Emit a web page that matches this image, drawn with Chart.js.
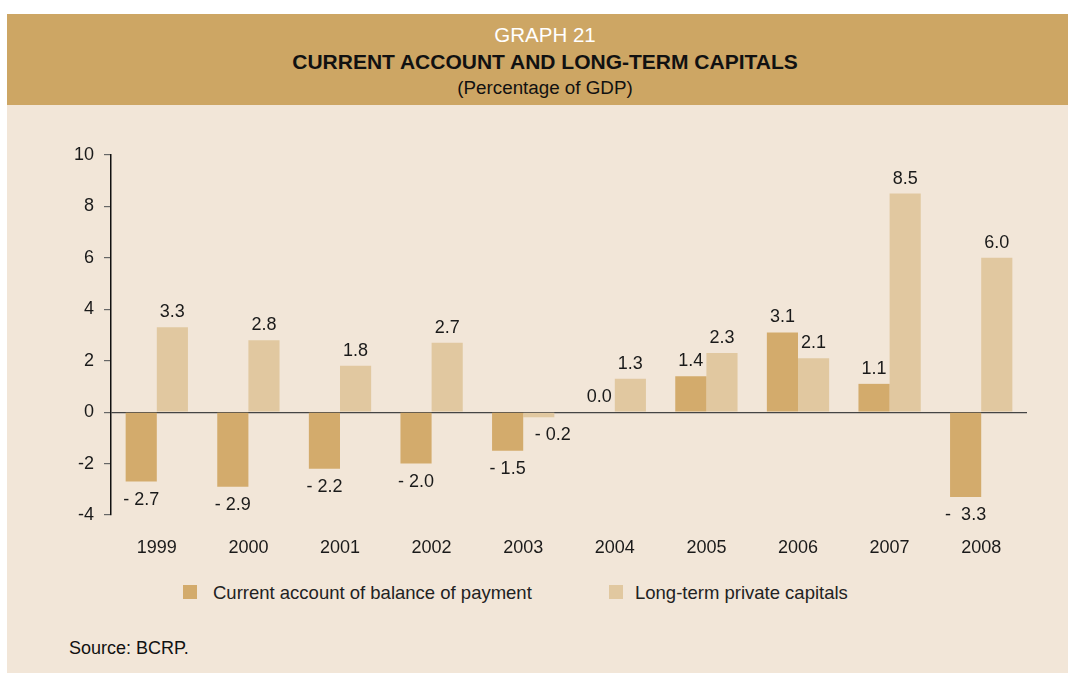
<!DOCTYPE html>
<html><head><meta charset="utf-8">
<script src="https://cdn.jsdelivr.net/npm/chart.js@4.4.1/dist/chart.umd.min.js"></script>
<style>
html,body{margin:0;padding:0;background:#fff;width:1068px;height:673px;overflow:hidden;font-family:"Liberation Sans",Arial,sans-serif;}
#head{position:absolute;left:7px;top:14px;width:1061px;height:91px;background:#CDA664;}
#panel{position:absolute;left:7px;top:105px;width:1061px;height:568px;background:#F2E6D8;}
.ht{position:absolute;left:0;width:1090px;text-align:center;line-height:1;white-space:nowrap;}
#g{top:25px;font-size:20.5px;color:#fff;}
#t{top:51px;font-size:21px;font-weight:bold;color:#111;}
#s{top:79px;font-size:18.8px;color:#111;}
#wrap{position:absolute;left:0;top:105px;width:1068px;height:460px;}
.leg{position:absolute;top:582px;font-size:18.5px;color:#222;}
.sw{position:absolute;width:14px;height:14px;top:585px;}
#src{position:absolute;left:69px;top:638px;font-size:18px;color:#111;}
</style></head>
<body>
<div id="head"></div>
<div id="panel"></div>
<div class="ht" id="g">GRAPH 21</div>
<div class="ht" id="t">CURRENT ACCOUNT AND LONG-TERM CAPITALS</div>
<div class="ht" id="s">(Percentage of GDP)</div>
<div id="wrap"><canvas id="c" width="1068" height="460"></canvas></div>
<div class="sw" style="left:183px;background:#D3AB6C"></div>
<div class="leg" style="left:213px">Current account of balance of payment</div>
<div class="sw" style="left:609px;background:#E1C8A0"></div>
<div class="leg" style="left:635px">Long-term private capitals</div>
<div id="src">Source: BCRP.</div>
<script>
const years = ['1999','2000','2001','2002','2003','2004','2005','2006','2007','2008'];
const currentAccount = [-2.7,-2.9,-2.2,-2.0,-1.5,0.0,1.4,3.1,1.1,-3.3];
const longTermCapitals = [3.3,2.8,1.8,2.7,-0.2,1.3,2.3,2.1,8.5,6.0];
const currentLabels = ['- 2.7','- 2.9','- 2.2','- 2.0','- 1.5','0.0','1.4','3.1','1.1','-  3.3'];
const longTermLabels = ['3.3','2.8','1.8','2.7','- 0.2','1.3','2.3','2.1','8.5','6.0'];
const yTicks = [10,8,6,4,2,0,-2,-4];

const FONT = '"Liberation Sans", Arial, sans-serif';
const labelPlugin = {
  id:'vlabels',
  afterDatasetsDraw(chart){
    const ctx = chart.ctx;
    const texts = [currentLabels, longTermLabels];
    ctx.save();
    ctx.font = '18px ' + FONT;
    ctx.fillStyle = '#1a1a1a';
    ctx.textAlign = 'center';
    ctx.textBaseline = 'middle';
    chart.data.datasets.forEach((ds, di) => {
      chart.getDatasetMeta(di).data.forEach((bar, i) => {
        const v = ds.data[i];
        let x = bar.x, y;
        if (v >= 0) y = bar.y - 15;
        else { y = bar.y + 18; if (Math.abs(v) < 0.5) x += 14; }
        ctx.fillText(texts[di][i], x, y);
      });
    });
    ctx.restore();
  }
};

new Chart(document.getElementById('c'), {
  type:'bar',
  data:{
    labels: years,
    datasets:[
      {label:'Current account of balance of payment', data: currentAccount, backgroundColor:'#D3AB6C', borderWidth:0},
      {label:'Long-term private capitals', data: longTermCapitals, backgroundColor:'#E1C8A0', borderWidth:0}
    ]
  },
  options:{
    responsive:false, animation:false,
    layout:{padding:{top:50,right:41,left:0,bottom:0}},
    datasets:{bar:{categoryPercentage:0.68, barPercentage:1.0}},
    plugins:{legend:{display:false}, tooltip:{enabled:false}},
    scales:{
      x:{
        grid:{display:false, drawTicks:false},
        border:{display:false},
        ticks:{color:'#1a1a1a', font:{size:18, family:FONT}, padding:22},
        afterFit(s){ s.height = 50; }
      },
      y:{
        min:-4, max:10,
        afterBuildTicks(s){ s.ticks = yTicks.map(v=>({value:v})); },
        grid:{drawOnChartArea:true, color:c=> (c.tick && c.tick.value===0) ? '#444' : 'rgba(0,0,0,0)', lineWidth:1.2, tickColor:'#666', tickLength:7, drawTicks:true},
        border:{display:true, color:'#111', width:1.5},
        ticks:{color:'#1a1a1a', font:{size:18, family:FONT}, padding:10},
        afterFit(s){ s.width = 111; }
      }
    }
  },
  plugins:[labelPlugin]
});
</script>
</body></html>
